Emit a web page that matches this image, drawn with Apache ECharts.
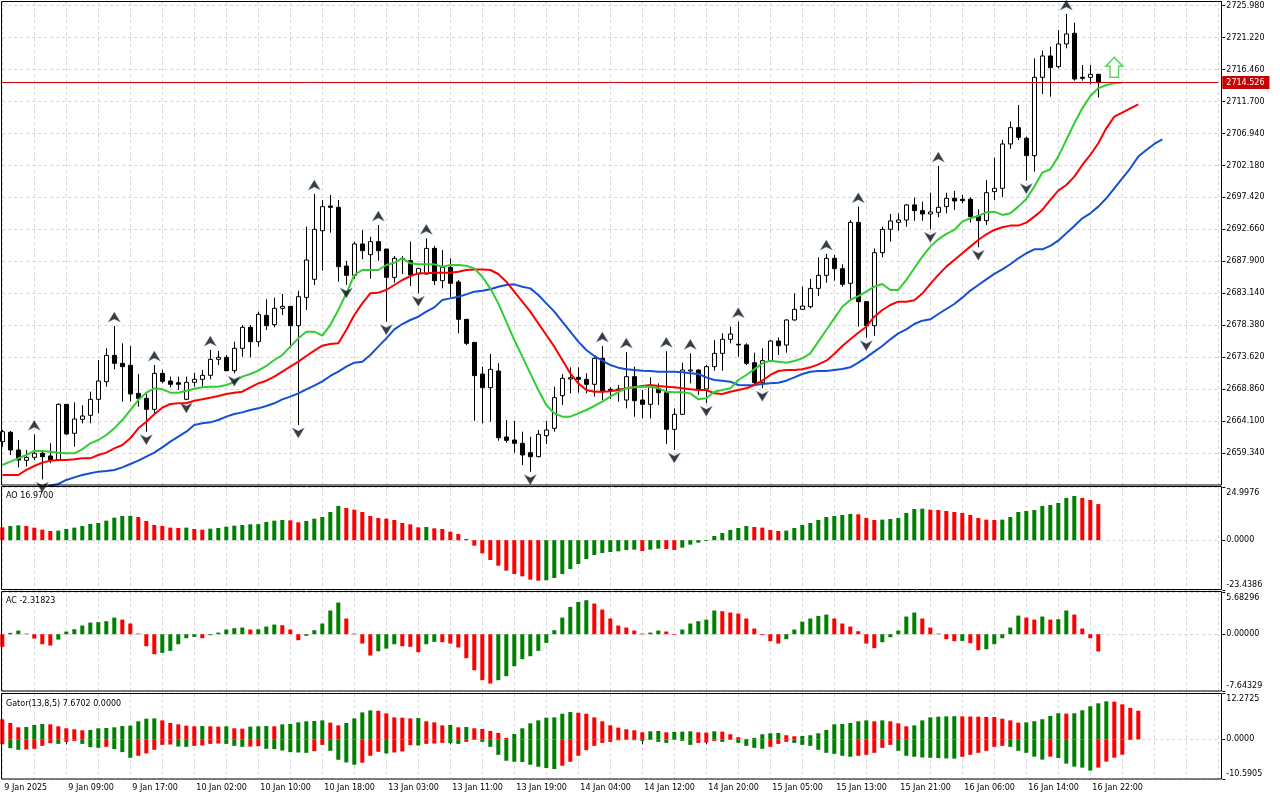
<!DOCTYPE html>
<html>
<head>
<meta charset="utf-8">
<title>XAUUSD H1 - Alligator, AO, AC, Gator</title>
<script src="https://cdn.jsdelivr.net/npm/echarts@6/dist/echarts.min.js"></script>
<style>
  html, body { margin: 0; padding: 0; background: #fff; }
  #chart { width: 1280px; height: 800px; }
</style>
</head>
<body>
<div id="chart"></div>
<script>
// H1 bars, 9 Jan 2025 01:00 .. 16 Jan 2025 23:00
const open = [
  2661.04, 2662.43, 2659.79, 2658.25, 2658.70, 2659.30, 2658.90, 2658.30, 2666.60, 2662.28,
  2664.36, 2664.96, 2667.34, 2669.97, 2673.89, 2672.70, 2672.41, 2668.23, 2667.49, 2665.85,
  2671.21, 2670.07, 2669.82, 2667.34, 2669.87, 2670.32, 2670.92, 2673.30, 2673.60, 2671.61,
  2674.94, 2678.07, 2675.93, 2679.85, 2678.46, 2680.90, 2681.19, 2678.31, 2682.53, 2685.22,
  2692.46, 2696.14, 2695.94, 2687.20, 2685.81, 2690.48, 2688.89, 2690.83, 2689.73, 2685.51,
  2688.34, 2688.00, 2686.01, 2686.01, 2689.83, 2685.02, 2687.00, 2684.82, 2679.26, 2675.83,
  2671.11, 2669.08, 2671.56, 2661.73, 2661.28, 2660.79, 2659.40, 2658.80, 2661.93, 2663.02,
  2667.89, 2670.37, 2670.62, 2670.32, 2669.58, 2673.45, 2668.83, 2668.73, 2667.24, 2670.72,
  2667.24, 2666.60, 2668.98, 2668.33, 2662.87, 2665.11, 2671.56, 2671.71, 2668.88, 2672.21,
  2674.19, 2676.28, 2675.55, 2675.45, 2672.80, 2669.82, 2673.10, 2676.03, 2675.43, 2679.16,
  2680.75, 2681.14, 2683.87, 2685.81, 2688.34, 2686.80, 2684.62, 2693.70, 2681.89, 2678.31,
  2689.19, 2692.67, 2693.71, 2694.06, 2696.30, 2695.45, 2694.95, 2695.20, 2696.05, 2697.29,
  2697.14, 2697.14, 2694.66, 2693.96, 2698.28, 2698.78, 2705.38, 2707.81, 2706.23, 2703.64,
  2715.31, 2718.49, 2716.90, 2720.28, 2721.87, 2715.31, 2715.31, 2715.76
];
const high = [
  2662.77, 2662.62, 2661.28, 2659.79, 2662.13, 2659.79, 2660.79, 2666.74, 2666.60, 2666.89,
  2666.45, 2668.48, 2673.20, 2674.94, 2678.26, 2675.68, 2675.28, 2671.11, 2668.14, 2672.45,
  2671.71, 2670.72, 2670.72, 2670.72, 2671.31, 2671.71, 2674.69, 2674.54, 2673.94, 2675.93,
  2678.41, 2678.41, 2680.40, 2682.24, 2682.48, 2683.03, 2681.19, 2683.53, 2693.06, 2697.93,
  2697.03, 2697.78, 2697.03, 2688.00, 2690.83, 2692.56, 2691.57, 2693.31, 2689.73, 2688.69,
  2688.69, 2690.83, 2686.85, 2691.32, 2690.18, 2689.58, 2688.34, 2685.12, 2679.26, 2675.83,
  2672.21, 2674.09, 2672.70, 2664.26, 2664.16, 2662.52, 2661.78, 2662.77, 2664.16, 2669.23,
  2671.11, 2672.11, 2672.11, 2671.21, 2673.80, 2675.28, 2669.13, 2669.48, 2674.39, 2672.21,
  2668.73, 2670.62, 2669.72, 2674.50, 2666.00, 2672.80, 2674.19, 2671.81, 2672.45, 2676.18,
  2677.17, 2678.16, 2678.91, 2675.68, 2674.29, 2674.94, 2676.18, 2676.58, 2679.26, 2683.13,
  2684.12, 2685.26, 2688.49, 2688.99, 2688.84, 2687.45, 2694.05, 2696.04, 2681.89, 2689.83,
  2693.07, 2694.95, 2695.05, 2696.44, 2697.39, 2696.79, 2698.13, 2702.10, 2698.13, 2698.38,
  2697.78, 2697.44, 2695.65, 2700.02, 2703.35, 2705.98, 2708.71, 2711.19, 2706.47, 2718.14,
  2719.28, 2719.88, 2722.36, 2724.74, 2723.45, 2717.15, 2717.15, 2715.81
];
const low = [
  2660.29, 2659.05, 2657.21, 2657.31, 2658.30, 2655.42, 2657.81, 2658.30, 2662.03, 2660.29,
  2663.77, 2663.77, 2665.26, 2669.23, 2671.81, 2666.99, 2666.99, 2666.25, 2662.52, 2665.26,
  2669.72, 2669.13, 2668.73, 2667.24, 2669.23, 2669.23, 2670.32, 2672.45, 2671.51, 2671.21,
  2673.70, 2673.60, 2675.19, 2677.67, 2678.07, 2679.90, 2674.94, 2663.52, 2680.65, 2684.37,
  2686.51, 2692.17, 2684.87, 2684.37, 2685.31, 2688.19, 2685.31, 2688.00, 2678.91, 2684.72,
  2686.01, 2684.22, 2683.13, 2685.90, 2684.37, 2683.87, 2682.53, 2677.17, 2675.43, 2664.16,
  2663.77, 2664.02, 2661.18, 2660.89, 2659.40, 2657.56, 2656.57, 2658.70, 2660.69, 2662.52,
  2666.50, 2668.23, 2668.33, 2668.23, 2667.74, 2667.24, 2667.40, 2666.99, 2666.00, 2664.76,
  2664.51, 2664.51, 2666.50, 2660.69, 2659.79, 2665.00, 2669.72, 2667.99, 2666.75, 2671.61,
  2671.61, 2675.68, 2673.70, 2672.45, 2669.48, 2668.98, 2672.95, 2673.94, 2674.29, 2679.06,
  2680.65, 2680.90, 2682.73, 2684.72, 2685.02, 2684.12, 2682.04, 2678.16, 2676.53, 2676.82,
  2688.50, 2690.83, 2692.47, 2693.07, 2693.96, 2693.96, 2692.67, 2694.46, 2695.05, 2695.55,
  2696.54, 2693.66, 2689.99, 2693.32, 2697.04, 2697.44, 2704.64, 2705.98, 2699.92, 2701.26,
  2712.83, 2712.43, 2716.65, 2719.63, 2714.81, 2714.81, 2714.27, 2712.28
];
const close = [
  2662.52, 2659.79, 2658.30, 2658.70, 2659.30, 2658.80, 2658.30, 2666.60, 2662.18, 2664.41,
  2664.86, 2667.34, 2670.07, 2673.89, 2672.70, 2672.21, 2668.14, 2667.49, 2665.85, 2671.21,
  2670.02, 2669.58, 2669.58, 2669.87, 2670.32, 2670.92, 2673.30, 2673.60, 2671.61, 2674.94,
  2678.07, 2675.93, 2680.00, 2678.31, 2680.90, 2681.19, 2678.31, 2682.63, 2688.09, 2692.66,
  2696.04, 2695.94, 2687.10, 2685.81, 2690.48, 2689.48, 2690.83, 2689.48, 2685.51, 2688.34,
  2688.19, 2685.86, 2686.85, 2689.83, 2685.02, 2687.00, 2684.62, 2679.26, 2675.68, 2670.87,
  2669.08, 2671.81, 2661.63, 2661.23, 2660.79, 2659.05, 2658.80, 2662.13, 2662.77, 2667.59,
  2670.47, 2670.57, 2670.32, 2669.58, 2673.45, 2668.48, 2668.63, 2668.88, 2670.72, 2667.14,
  2666.60, 2669.23, 2668.33, 2662.87, 2665.11, 2671.71, 2671.71, 2668.88, 2672.21, 2674.19,
  2676.28, 2677.07, 2675.45, 2672.70, 2669.82, 2673.10, 2676.03, 2675.33, 2679.16, 2680.75,
  2681.24, 2683.87, 2685.81, 2688.34, 2686.80, 2684.47, 2693.70, 2681.89, 2678.31, 2689.19,
  2692.66, 2693.91, 2694.06, 2696.30, 2695.45, 2694.95, 2695.25, 2695.95, 2697.29, 2696.89,
  2696.94, 2694.56, 2693.96, 2698.13, 2698.78, 2705.38, 2707.81, 2706.37, 2703.64, 2715.31,
  2718.49, 2716.75, 2720.28, 2721.77, 2715.06, 2715.16, 2715.76, 2714.526
];

// Alligator lines as drawn (already shifted: lips +3, teeth +5, jaw +8 bars)
const lips = [
  2657.56, 2658.06, 2658.55, 2659.05, 2659.65, 2659.65, 2659.55, 2659.40, 2659.30, 2659.30,
  2659.89, 2660.79, 2661.28, 2662.03, 2663.02, 2664.26, 2665.75, 2667.24, 2668.33, 2668.98,
  2668.83, 2668.33, 2668.33, 2668.63, 2668.93, 2669.13, 2669.23, 2669.23, 2669.48, 2669.92,
  2670.72, 2671.11, 2671.61, 2672.31, 2673.20, 2673.94, 2675.19, 2676.43, 2677.42, 2677.42,
  2676.82, 2678.41, 2680.65, 2683.13, 2685.86, 2686.61, 2686.61, 2686.61, 2687.35, 2687.70,
  2688.34, 2687.60, 2687.45, 2687.45, 2687.45, 2687.10, 2687.35, 2687.35, 2687.25, 2686.85,
  2685.61, 2683.87, 2681.64, 2678.91, 2676.18, 2673.70, 2671.21, 2668.73, 2666.50, 2665.26,
  2664.76, 2664.76, 2665.26, 2665.75, 2666.35, 2667.00, 2667.74, 2668.43, 2668.98, 2669.13,
  2669.23, 2669.23, 2668.98, 2668.48, 2668.38, 2668.38, 2668.23, 2667.34, 2667.49, 2668.48,
  2668.73, 2668.98, 2670.22, 2670.97, 2671.81, 2672.70, 2673.10, 2672.95, 2672.80, 2673.05,
  2673.45, 2674.19, 2675.93, 2677.67, 2679.41, 2681.14, 2682.14, 2682.73, 2683.38, 2684.12,
  2684.52, 2683.63, 2683.63, 2685.12, 2686.86, 2688.60, 2690.09, 2691.18, 2691.98, 2692.57,
  2693.81, 2694.31, 2694.66, 2695.20, 2695.30, 2694.81, 2695.05, 2696.05, 2697.19, 2699.03,
  2701.11, 2701.61, 2703.50, 2705.98, 2708.46, 2710.69, 2712.53, 2713.67, 2714.17, 2714.42,
  2714.52
];
const teeth = [
  2656.07, 2656.07, 2656.07, 2656.82, 2657.41, 2657.91, 2658.20, 2658.30, 2658.30, 2658.40,
  2658.55, 2658.55, 2659.05, 2659.40, 2660.04, 2660.54, 2661.53, 2663.02, 2664.01, 2665.11,
  2666.10, 2666.65, 2666.75, 2666.75, 2667.14, 2667.34, 2667.59, 2667.84, 2668.14, 2668.33,
  2668.48, 2669.13, 2669.72, 2670.12, 2670.72, 2671.46, 2672.21, 2672.95, 2673.80, 2674.59,
  2675.33, 2675.58, 2675.68, 2677.67, 2679.90, 2681.64, 2683.13, 2683.23, 2683.63, 2684.37,
  2685.12, 2685.71, 2686.11, 2686.11, 2686.21, 2686.21, 2686.21, 2686.36, 2686.61, 2686.70,
  2686.70, 2686.61, 2686.01, 2684.87, 2683.38, 2681.89, 2680.40, 2678.66, 2676.92, 2675.19,
  2673.20, 2671.21, 2669.72, 2668.73, 2668.48, 2668.48, 2668.53, 2668.73, 2668.98, 2669.13,
  2669.33, 2669.48, 2669.33, 2669.23, 2669.13, 2668.98, 2668.83, 2668.73, 2668.73, 2668.23,
  2668.14, 2668.48, 2668.73, 2668.98, 2669.48, 2670.12, 2670.97, 2671.56, 2671.71, 2671.71,
  2671.81, 2672.11, 2672.55, 2673.10, 2674.09, 2675.29, 2676.28, 2677.27, 2678.16, 2679.65,
  2680.65, 2681.39, 2681.89, 2681.89, 2682.10, 2683.10, 2684.55, 2685.87, 2687.11, 2688.10,
  2689.10, 2690.09, 2691.08, 2691.93, 2692.57, 2692.97, 2693.22, 2693.22, 2693.66, 2694.56,
  2695.55, 2697.04, 2698.43, 2699.27, 2700.51, 2702.25, 2703.74, 2705.48, 2707.71, 2709.45,
  2710.05, 2710.69, 2711.29
];
const jaw = [
  2651.00, 2651.60, 2652.20, 2652.80, 2653.40, 2654.00, 2654.50, 2654.73, 2655.33, 2655.72,
  2656.07, 2656.32, 2656.57, 2656.67, 2656.82, 2657.21, 2657.71, 2658.20, 2658.80, 2659.40,
  2660.19, 2661.04, 2661.78, 2662.52, 2663.52, 2663.77, 2663.91, 2664.26, 2664.76, 2665.16,
  2665.40, 2665.75, 2666.00, 2666.35, 2666.75, 2667.34, 2667.74, 2668.23, 2668.83, 2669.38,
  2670.02, 2670.82, 2671.46, 2672.21, 2672.80, 2672.95, 2673.94, 2675.19, 2676.43, 2677.77,
  2678.56, 2679.16, 2679.65, 2680.40, 2681.04, 2682.14, 2682.38, 2682.63, 2682.98, 2683.38,
  2683.53, 2683.73, 2684.12, 2684.37, 2684.47, 2684.12, 2683.87, 2682.88, 2681.64, 2680.40,
  2678.91, 2677.42, 2675.93, 2674.69, 2673.80, 2673.10, 2672.45, 2672.06, 2671.81, 2671.71,
  2671.61, 2671.56, 2671.46, 2671.46, 2671.46, 2671.36, 2671.21, 2671.11, 2670.62, 2670.22,
  2670.12, 2669.97, 2669.48, 2669.43, 2669.48, 2669.62, 2669.72, 2669.82, 2670.12, 2670.62,
  2671.11, 2671.46, 2671.56, 2671.56, 2671.71, 2671.86, 2672.11, 2672.80, 2673.60, 2674.44,
  2675.29, 2676.28, 2677.17, 2677.77, 2678.56, 2679.06, 2679.26, 2680.05, 2680.80, 2681.54,
  2682.49, 2683.54, 2684.38, 2685.22, 2686.02, 2686.71, 2687.46, 2688.35, 2689.10, 2689.69,
  2689.69, 2690.19, 2690.98, 2692.07, 2693.17, 2694.31, 2695.05, 2696.05, 2697.29, 2698.78,
  2700.27, 2701.76, 2703.50, 2704.49, 2705.38, 2706.08
];

// bars that carry a fractal arrow
const fractalUpBars = [4, 14, 19, 26, 39, 47, 53, 75, 78, 83, 86, 92, 103, 107, 117, 133];
const fractalDownBars = [5, 18, 23, 29, 37, 43, 48, 52, 66, 84, 88, 95, 108, 116, 122, 128];
const signalBar = 139;

// Awesome Oscillator
const ao = [
  6.04, 6.66, 6.98, 6.66, 5.88, 4.94, 4.31, 4.47, 5.25, 5.88,
  6.66, 7.60, 8.07, 9.17, 10.58, 11.37, 11.45, 10.90, 9.02, 7.13,
  6.66, 5.88, 5.72, 5.88, 5.25, 4.94, 5.41, 5.72, 6.35, 6.82,
  7.13, 7.45, 7.53, 8.54, 9.17, 9.49, 9.33, 8.39, 9.02, 10.11,
  10.90, 13.25, 16.07, 15.13, 14.35, 13.25, 11.37, 10.43, 10.11, 9.49,
  8.07, 7.45, 6.04, 6.19, 5.57, 5.25, 4.00, 2.90, 0.55, -2.59,
  -6.19, -9.33, -12.00, -14.35, -15.91, -17.01, -18.58, -19.05, -18.89, -17.80,
  -15.91, -13.56, -11.21, -8.86, -6.98, -6.04, -5.57, -5.25, -4.63, -4.47,
  -5.10, -4.47, -4.00, -4.16, -4.63, -3.53, -2.12, -1.18, -0.39, 1.96,
  3.37, 4.78, 5.72, 6.66, 6.19, 5.88, 4.78, 4.31, 4.47, 5.72,
  7.13, 8.07, 9.49, 10.90, 11.37, 11.84, 12.31, 12.15, 10.43, 9.49,
  9.64, 9.96, 10.43, 12.78, 14.66, 14.82, 14.35, 14.19, 13.72, 13.25,
  12.78, 11.84, 10.43, 9.64, 9.49, 9.64, 10.90, 13.25, 13.72, 14.19,
  16.07, 16.54, 17.48, 19.83, 20.78, 19.83, 18.89, 16.97
];
// Accelerator Oscillator
const ac = [
  -1.70, 0.18, 0.49, 0.09, -0.58, -1.35, -1.53, -0.72, 0.36, 0.67,
  1.17, 1.57, 1.62, 1.75, 2.24, 1.97, 1.44, 0.09, -1.62, -2.69,
  -2.51, -2.24, -1.35, -0.54, -0.36, -0.54, -0.13, 0.22, 0.63, 0.81,
  0.90, 0.63, 0.67, 1.03, 1.30, 1.21, 0.63, -0.81, -0.22, 0.54,
  1.44, 3.19, 4.26, 2.11, 0.09, -1.26, -2.87, -2.29, -1.93, -1.35,
  -1.62, -1.70, -2.42, -1.35, -1.03, -1.08, -1.26, -1.79, -3.23, -4.85,
  -6.19, -6.64, -6.19, -5.65, -4.31, -3.36, -2.96, -2.24, -1.17, 0.54,
  2.24, 3.68, 4.35, 4.58, 4.13, 3.32, 2.11, 1.17, 0.90, 0.49,
  0.09, 0.22, 0.49, 0.36, -0.09, 0.63, 1.44, 1.75, 1.97, 3.19,
  3.10, 2.92, 2.78, 2.11, 0.76, -0.13, -0.94, -1.26, -0.67, 0.63,
  1.70, 2.11, 2.47, 2.65, 2.11, 1.44, 1.03, 0.40, -1.26, -1.88,
  -1.08, -0.40, 0.49, 2.38, 2.92, 2.11, 0.90, 0.09, -0.67, -0.94,
  -0.90, -1.21, -2.15, -2.02, -1.35, -0.54, 0.90, 2.51, 2.24, 1.97,
  2.38, 1.97, 2.02, 3.19, 2.65, 0.76, -0.54, -2.31823
];
// Gator oscillator: upper |jaw-teeth|, lower -|teeth-lips|
const gatorUp = [
  5.36, 4.38, 3.23, 3.32, 3.85, 4.12, 4.03, 3.50, 2.97, 2.70,
  2.44, 2.52, 2.97, 3.06, 3.23, 3.59, 3.68, 4.83, 5.54, 5.62,
  5.09, 4.38, 4.03, 3.68, 3.50, 3.59, 3.50, 3.41, 3.50, 2.97,
  2.88, 3.41, 3.50, 3.59, 3.50, 4.03, 4.12, 4.56, 4.83, 4.92,
  5.09, 4.47, 3.76, 4.38, 5.62, 7.22, 7.75, 7.66, 6.95, 5.89,
  5.80, 5.62, 5.71, 4.83, 4.56, 3.76, 3.85, 3.23, 3.32, 2.97,
  2.79, 2.26, 1.73, 0.40, 1.46, 2.97, 4.30, 5.09, 5.80, 5.89,
  6.86, 7.31, 7.13, 6.86, 5.89, 4.83, 3.76, 3.14, 2.70, 2.44,
  1.90, 2.17, 2.26, 1.90, 1.99, 2.08, 2.17, 1.90, 1.82, 2.17,
  2.08, 1.37, 0.58, 0.13, 0.40, 1.37, 1.64, 1.73, 1.11, 0.84,
  0.93, 1.11, 1.64, 2.52, 4.03, 4.12, 4.38, 4.83, 5.09, 4.83,
  5.09, 4.83, 4.30, 3.50, 3.76, 5.09, 5.89, 6.07, 6.16, 6.20,
  6.16, 6.11, 6.07, 6.02, 5.98, 5.54, 5.09, 4.47, 4.56, 4.86,
  5.40, 6.28, 6.99, 6.90, 6.99, 7.79, 8.85, 9.65, 10.18, 10.10,
  9.38, 8.40, 7.6702
];
const gatorDown = [
  -1.28, -2.35, -2.79, -2.70, -2.52, -1.73, -1.02, -1.20, -0.66, -0.40,
  -1.20, -2.08, -2.26, -1.99, -2.61, -3.41, -4.92, -4.38, -3.76, -2.79,
  -1.46, -1.37, -1.90, -1.99, -1.73, -1.64, -1.20, -1.11, -1.20, -1.73,
  -1.99, -1.90, -1.82, -2.52, -2.61, -2.97, -3.41, -3.50, -3.59, -3.14,
  -1.46, -3.06, -5.45, -6.16, -6.78, -6.24, -4.38, -3.32, -3.76, -3.50,
  -3.23, -1.55, -1.64, -1.20, -1.11, -0.93, -1.02, -1.20, -0.66, -0.13,
  -0.66, -1.99, -4.12, -5.71, -5.98, -6.07, -6.78, -7.31, -7.66, -7.93,
  -7.04, -5.98, -4.38, -2.88, -1.73, -0.93, -0.66, -0.22, -0.13, -0.22,
  -0.40, -0.13, -0.66, -0.93, -0.13, -0.40, -1.46, -0.93, -0.84, -0.40,
  -0.66, -0.13, -0.93, -1.73, -2.26, -2.52, -1.99, -1.20, -0.66, -0.93,
  -1.46, -1.73, -2.79, -3.59, -3.85, -4.38, -4.65, -4.38, -4.12, -3.59,
  -2.26, -1.46, -3.06, -4.38, -4.65, -4.83, -4.92, -5.00, -5.09, -5.14,
  -4.65, -4.12, -3.59, -3.06, -1.99, -1.73, -1.99, -3.06, -3.59, -4.62,
  -5.42, -4.62, -4.97, -6.48, -7.28, -7.55, -8.35, -7.55, -5.95, -4.89,
  -4.09, -0.15, 0
];

// axis ticks
const priceTicks = [
  2659.34, 2664.10, 2668.86, 2673.62, 2678.38, 2683.14, 2687.90, 2692.66,
  2697.42, 2702.18, 2706.94, 2711.70, 2716.46, 2721.22, 2725.98
];
const priceRange = [2654.58, 2726.53];
const aoTicks = [-23.4386, 0, 24.9976];
const acTicks = [-7.64329, 0, 5.68296];
const gatorTicks = [-10.5905, 0, 12.2725];
const timeLabels = [
  '9 Jan 2025', '9 Jan 09:00', '9 Jan 17:00', '10 Jan 02:00', '10 Jan 10:00', '10 Jan 18:00',
  '13 Jan 03:00', '13 Jan 11:00', '13 Jan 19:00', '14 Jan 04:00', '14 Jan 12:00', '14 Jan 20:00',
  '15 Jan 05:00', '15 Jan 13:00', '15 Jan 21:00', '16 Jan 06:00', '16 Jan 14:00', '16 Jan 22:00'
];
const slotCount = 153; // bars + empty space on the right

const FONT = 'DejaVu Sans';
const GREEN = '#008000';
const RED = '#ff0000';
const GRID_LINE = '#d6d6d6';
const slots = Array.from({ length: slotCount }, (_, i) => String(i));
const lastPrice = close[close.length - 1];

// green when the bar grew compared with the previous one
function barColor(list, i, useAbs) {
  if (i === 0) return RED;
  let a = list[i], b = list[i - 1];
  if (useAbs) { a = Math.abs(a); b = Math.abs(b); }
  return a > b ? GREEN : RED;
}

const isLabelSlot = (i) => i % 8 === 0 && i / 8 < timeLabels.length;

function xAxisFor(gridIndex, withLabels) {
  return {
    type: 'category',
    gridIndex: gridIndex,
    data: slots,
    boundaryGap: false,
    axisLine: { show: false },
    axisTick: withLabels
      ? { show: true, interval: isLabelSlot, length: 5, lineStyle: { color: '#000' } }
      : { show: false },
    axisLabel: withLabels
      ? {
          show: true, interval: isLabelSlot, align: 'left', margin: 5, padding: [0, 0, 0, 2],
          fontSize: 8, fontFamily: FONT, color: '#000',
          formatter: (v, i) => timeLabels[i / 8] || ''
        }
      : { show: false },
    splitLine: { show: true, interval: (i) => i % 4 === 0, lineStyle: { color: GRID_LINE, type: [3, 3] } }
  };
}

function subAxis(gridIndex, ticks, digits) {
  const lo = ticks[0], hi = ticks[ticks.length - 1];
  const txt = { fontSize: 8, fontFamily: FONT, color: '#000' };
  return {
    type: 'value', gridIndex: gridIndex, position: 'right', offset: 4,
    min: lo, max: hi,
    axisLine: { show: false },
    axisTick: { show: true, length: 3, customValues: ticks, lineStyle: { color: '#000' } },
    axisLabel: Object.assign({
      customValues: ticks, margin: 4,
      formatter: (v) => {
        const t = v.toFixed(digits);
        if (v >= hi - 1e-9) return '{top|' + t + '}';
        if (v <= lo + 1e-9) return '{bot|' + t + '}';
        return t;
      },
      rich: {
        top: Object.assign({ padding: [11, 0, 0, 0] }, txt),
        bot: Object.assign({ padding: [0, 0, 10, 0] }, txt)
      }
    }, txt),
    splitLine: { show: true, lineStyle: { color: GRID_LINE, type: [3, 3] } }
  };
}

function panelBorder(y, h) {
  return {
    type: 'rect', z: 100, silent: true,
    shape: { x: 1.5, y: y, width: 1220, height: h },
    style: { fill: 'none', stroke: '#000', lineWidth: 1 }
  };
}

function panelTitle(y, text) {
  return {
    type: 'text', z: 100, silent: true, left: 6, top: y,
    style: { text: text, fontSize: 8, fontFamily: FONT, fill: '#000' }
  };
}

const upArrow = 'path://M6,0 L12,10 L6,7 L0,10 Z';
const downArrow = 'path://M0,0 L6,3 L12,0 L6,10 Z';
const bigUpArrow = 'path://M8,0 L16,9 L12,9 L12,20 L4,20 L4,9 L0,9 Z';

const candles = open.map((o, i) => [o, close[i], low[i], high[i]]);

const option = {
  animation: false,
  backgroundColor: '#fff',
  grid: [
    { left: 2.3, width: 1216, top: 2, height: 483 },
    { left: 2.3, width: 1216, top: 487, height: 103 },
    { left: 2.3, width: 1216, top: 592, height: 99 },
    { left: 2.3, width: 1216, top: 693.5, height: 85.5 }
  ],
  xAxis: [xAxisFor(0, false), xAxisFor(1, false), xAxisFor(2, false), xAxisFor(3, true)],
  yAxis: [
    {
      type: 'value', gridIndex: 0, position: 'right', offset: 4,
      min: priceRange[0], max: priceRange[1],
      axisLine: { show: false },
      axisTick: { show: true, length: 3, customValues: priceTicks, lineStyle: { color: '#000' } },
      axisLabel: {
        customValues: priceTicks, margin: 4, formatter: (v) => v.toFixed(3),
        fontSize: 8, fontFamily: FONT, color: '#000'
      },
      splitLine: { show: true, lineStyle: { color: GRID_LINE, type: [3, 3] } }
    },
    subAxis(1, aoTicks, 4),
    subAxis(2, acTicks, 5),
    subAxis(3, gatorTicks, 4)
  ],
  graphic: [
    panelBorder(1.5, 483.5),
    panelBorder(486.5, 103),
    panelBorder(591.5, 99.5),
    panelBorder(693.5, 85.5),
    panelTitle(492, 'AO ' + ao[ao.length - 1].toFixed(4)),
    panelTitle(597, 'AC ' + ac[ac.length - 1].toFixed(5)),
    panelTitle(699.5, 'Gator(13,8,5) ' + gatorUp[gatorUp.length - 1].toFixed(4) + ' ' +
      Math.abs(gatorDown[gatorDown.length - 1]).toFixed(4))
  ],
  series: [
    {
      type: 'candlestick', xAxisIndex: 0, yAxisIndex: 0, z: 2,
      data: candles, barWidth: 5,
      itemStyle: { color: '#fff', color0: '#000', borderColor: '#000', borderColor0: '#000', borderWidth: 1 },
      markLine: {
        silent: true, symbol: ['none', 'none'], animation: false,
        lineStyle: { color: '#d00000', width: 1, type: 'solid' },
        label: {
          show: true, position: 'end', distance: 4, formatter: lastPrice.toFixed(3),
          color: '#fff', backgroundColor: '#c80000', padding: [3, 5, 2, 4],
          fontSize: 8, fontFamily: FONT
        },
        data: [{ yAxis: lastPrice }]
      }
    },
    { name: 'Jaw', type: 'line', xAxisIndex: 0, yAxisIndex: 0, z: 3, data: jaw, showSymbol: false, lineStyle: { color: '#1450d2', width: 2 } },
    { name: 'Teeth', type: 'line', xAxisIndex: 0, yAxisIndex: 0, z: 3, data: teeth, showSymbol: false, lineStyle: { color: '#ff0000', width: 2 } },
    { name: 'Lips', type: 'line', xAxisIndex: 0, yAxisIndex: 0, z: 3, data: lips, showSymbol: false, lineStyle: { color: '#32cd32', width: 2 } },
    {
      type: 'scatter', xAxisIndex: 0, yAxisIndex: 0, z: 5,
      data: fractalUpBars.map((i) => [i, high[i]]),
      symbol: upArrow, symbolSize: [12, 10], symbolOffset: [0, -9],
      itemStyle: { color: '#0a0a0a', borderColor: '#5f86b8', borderWidth: 0.5 }
    },
    {
      type: 'scatter', xAxisIndex: 0, yAxisIndex: 0, z: 5,
      data: fractalDownBars.map((i) => [i, low[i]]),
      symbol: downArrow, symbolSize: [12, 10], symbolOffset: [0, 8],
      itemStyle: { color: '#0a0a0a', borderColor: '#5f86b8', borderWidth: 0.5 }
    },
    {
      type: 'scatter', xAxisIndex: 0, yAxisIndex: 0, z: 5,
      data: [[signalBar, lips[signalBar]]],
      symbol: bigUpArrow, symbolSize: [17, 20], symbolOffset: [0, -16],
      itemStyle: { color: '#fff', borderColor: '#33cc33', borderWidth: 1.5 }
    },
    {
      name: 'AO', type: 'bar', xAxisIndex: 1, yAxisIndex: 1, barWidth: 4,
      data: ao, itemStyle: { color: (p) => barColor(ao, p.dataIndex, false) }
    },
    {
      name: 'AC', type: 'bar', xAxisIndex: 2, yAxisIndex: 2, barWidth: 4,
      data: ac, itemStyle: { color: (p) => barColor(ac, p.dataIndex, false) }
    },
    {
      name: 'Gator up', type: 'bar', xAxisIndex: 3, yAxisIndex: 3, barWidth: 4, barGap: '-100%',
      data: gatorUp, itemStyle: { color: (p) => barColor(gatorUp, p.dataIndex, true) }
    },
    {
      name: 'Gator down', type: 'bar', xAxisIndex: 3, yAxisIndex: 3, barWidth: 4, barGap: '-100%',
      data: gatorDown, itemStyle: { color: (p) => barColor(gatorDown, p.dataIndex, true) }
    }
  ]
};

const chart = echarts.init(document.getElementById('chart'), null, { renderer: 'canvas' });
chart.setOption(option);
</script>
</body>
</html>
